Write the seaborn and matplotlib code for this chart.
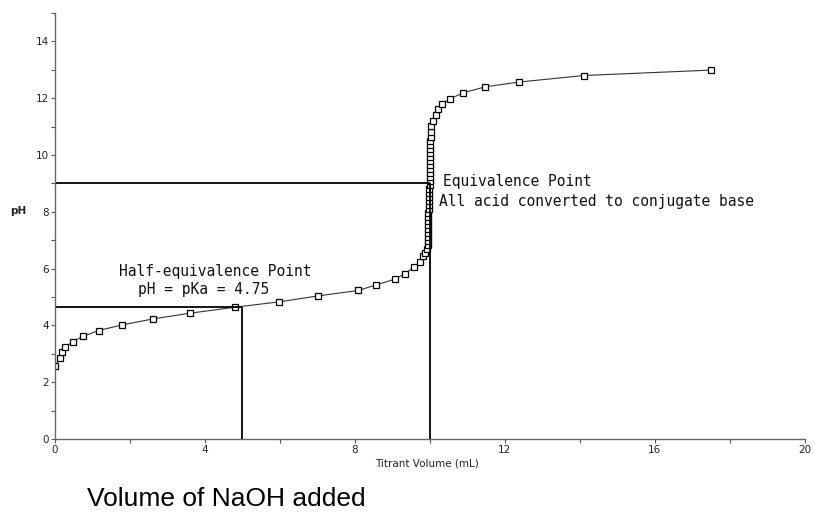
import matplotlib
matplotlib.use('Agg')
import matplotlib.pyplot as plt
import seaborn as sns
from matplotlib.ticker import MultipleLocator

sns.set_style('ticks')
plt.rcParams['font.family'] = ['DejaVu Sans']

# Titration data (NaOH volume in mL, pH)
volume_ml = [
    0.00, 0.13, 0.18, 0.27, 0.47, 0.74, 1.16, 1.80, 2.62, 3.60, 4.80,
    5.98, 7.02, 8.09, 8.55, 9.07, 9.33, 9.57, 9.73, 9.82, 9.88,
    9.92, 9.94, 9.95, 9.95, 9.96, 9.96, 9.96, 9.96, 9.96, 9.96,
    9.97, 9.97, 9.97, 9.97, 9.98, 9.98, 9.99, 9.99, 10.00, 10.00,
    10.00, 10.00, 10.00, 10.00, 10.00, 10.01, 10.01, 10.01, 10.02, 10.02,
    10.04, 10.09, 10.15, 10.22, 10.31, 10.53, 10.89, 11.47, 12.38, 14.11, 17.49,
]
ph_values = [
    2.57, 2.85, 3.05, 3.23, 3.43, 3.61, 3.82, 4.02, 4.23, 4.43, 4.64,
    4.83, 5.04, 5.23, 5.42, 5.63, 5.82, 6.05, 6.25, 6.43, 6.55,
    6.70, 6.84, 6.98, 7.12, 7.26, 7.40, 7.54, 7.68, 7.82, 7.96,
    8.10, 8.24, 8.38, 8.52, 8.66, 8.80, 8.94, 9.08, 9.22, 9.36,
    9.50, 9.64, 9.78, 9.92, 10.06, 10.20, 10.34, 10.48, 10.62, 10.82,
    11.01, 11.19, 11.42, 11.62, 11.80, 11.98, 12.19, 12.40, 12.57, 12.80, 12.99,
]

# Guide points
eq_volume = 10.0
eq_ph = 9.0
half_volume = 5.0
half_ph = 4.65

x_ticks = [0, 4, 8, 12, 16, 20]
y_ticks = [0, 2, 4, 6, 8, 10, 12, 14]

fig = plt.figure(figsize=(8.15, 5.23), dpi=100)
ax = fig.add_axes([0.0675, 0.1606, 0.920, 0.8145])

sns.lineplot(
    x=volume_ml, y=ph_values, ax=ax, sort=False, estimator=None,
    color='#333333', linewidth=0.8, marker='s', markersize=4.4,
    markerfacecolor='white', markeredgecolor='black', markeredgewidth=0.9,
)

# equivalence / half-equivalence guide lines
ax.hlines(eq_ph, 0, eq_volume, color='black', linewidth=1.3)
ax.vlines(eq_volume, 0, eq_ph, color='black', linewidth=1.3)
ax.hlines(half_ph, 0, half_volume, color='black', linewidth=1.3)
ax.vlines(half_volume, 0, half_ph, color='black', linewidth=1.3)

note_font = dict(fontsize=10.5, family=['DejaVu Sans Mono'], color='#111111')
ax.text(10.35, 9.06, 'Equivalence Point', va='center', ha='left', **note_font)
ax.text(10.24, 8.36, 'All acid converted to conjugate base', va='center', ha='left',
        **note_font)
ax.text(4.27, 5.90, 'Half-equivalence Point', va='center', ha='center', **note_font)
ax.text(3.97, 5.25, 'pH = pKa = 4.75', va='center', ha='center', **note_font)

ax.set_xlim(0, 20)
ax.set_ylim(0, 15)
ax.set_xticks(x_ticks)
ax.set_yticks(y_ticks)
ax.xaxis.set_minor_locator(MultipleLocator(2))
ax.yaxis.set_minor_locator(MultipleLocator(1))
ax.tick_params(which='both', length=3, width=0.8, color='#555555',
               labelsize=7.5, labelcolor='#222222', pad=1.5)

for side in ['top', 'right']:
    ax.spines[side].set_visible(False)
for side in ['left', 'bottom']:
    ax.spines[side].set_color('#666666')
    ax.spines[side].set_linewidth(1.0)

ax.set_xlabel('Titrant Volume (mL)', fontsize=7.5, color='#222222')
ax.xaxis.set_label_coords(0.496, -0.045)
ax.set_ylabel('pH', fontsize=7.5, rotation=0, fontweight='bold', color='#222222')
ax.yaxis.set_label_coords(-0.049, 0.523)

fig.text(0.107, 0.022, 'Volume of NaOH added', fontsize=19, color='black',
         family=['Liberation Sans', 'DejaVu Sans'], ha='left', va='bottom')

fig.savefig('out.png', dpi=100)
